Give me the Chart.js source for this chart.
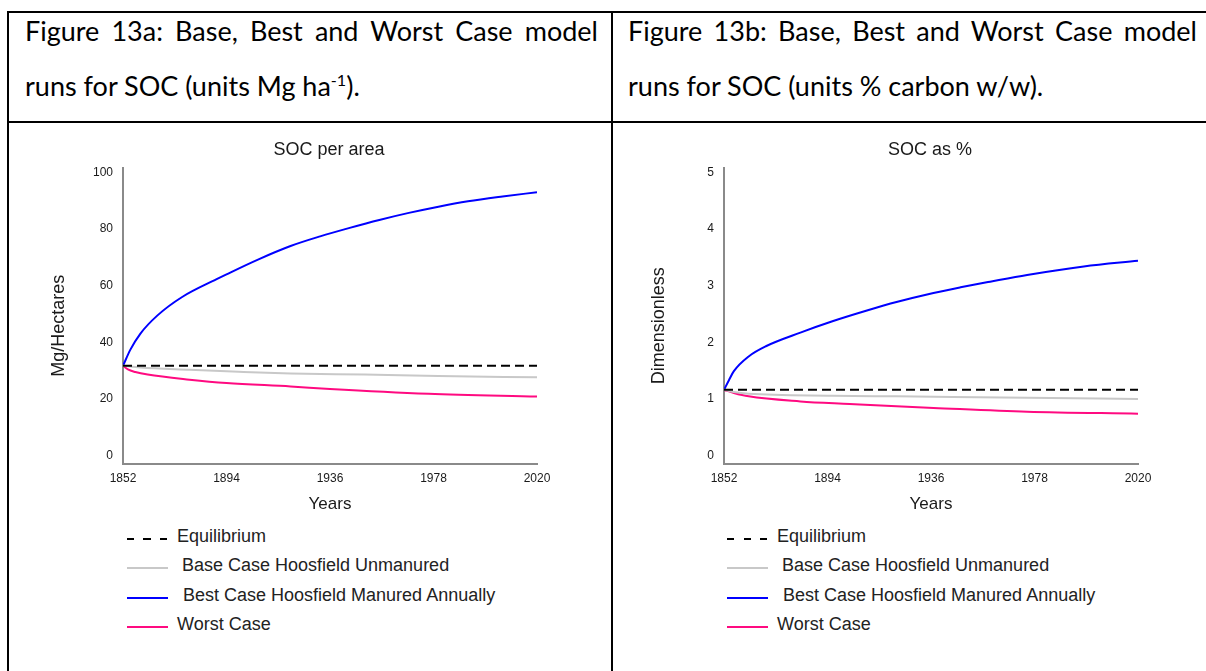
<!DOCTYPE html>
<html>
<head>
<meta charset="utf-8">
<title>SOC model runs</title>
<script src="https://cdn.jsdelivr.net/npm/chart.js@4.4.1/dist/chart.umd.min.js"></script>
<style>
  html, body { margin: 0; padding: 0; background: #fff; }
  body { position: relative; width: 1206px; height: 671px; overflow: hidden; }
  .rule { position: absolute; background: #000; }
  .caption { position: absolute; font-family: Lato, sans-serif; font-size: 27px; color: #000; line-height: 30px; }
  .caption .first { text-align: justify; text-align-last: justify; }
  .caption sup { font-size: 0.6em; line-height: 0; vertical-align: 0.6em; }
  canvas { position: absolute; top: 124px; }
  .legend { position: absolute; top: 0; left: 0; font-family: "Liberation Sans", Arial, sans-serif; font-size: 18px; color: #222; }
  .legend div { position: absolute; white-space: nowrap; }
</style>
</head>
<body>

<div class="caption" style="left:25px; top:16px; width:573px;">
  <div class="first">Figure 13a: Base, Best and Worst Case model</div>
</div>
<div class="caption" style="left:25px; top:71px;">runs for SOC (units Mg ha<sup>-1</sup>).</div>
<div class="caption" style="left:628px; top:16px; width:569px;">
  <div class="first">Figure 13b: Base, Best and Worst Case model</div>
</div>
<div class="caption" style="left:628px; top:71px;">runs for SOC (units % carbon w/w).</div>

<canvas id="areaChart" width="574" height="396" style="left:42px"></canvas>
<canvas id="pctChart" width="572" height="396" style="left:644px"></canvas>

<div class="legend" id="areaLegend"></div>
<div class="legend" id="pctLegend"></div>

<div class="rule" style="left:7px; top:11px; width:1199px; height:2px"></div>
<div class="rule" style="left:7px; top:121px; width:1199px; height:2px"></div>
<div class="rule" style="left:7px; top:11px; width:2px; height:660px"></div>
<div class="rule" style="left:611px; top:11px; width:2px; height:660px"></div>

<script>
const yearTicks = [1852, 1894, 1936, 1978, 2020];
const areaTicks = [0, 20, 40, 60, 80, 100];
const pctTicks = [0, 1, 2, 3, 4, 5];

const seriesNames = ['Equilibrium', 'Base Case Hoosfield Unmanured', 'Best Case Hoosfield Manured Annually', 'Worst Case'];
const seriesColors = ['#000000', '#c8c8c8', '#0000ff', '#ff0a80'];

// SOC per area, Mg/ha
const areaEquilYears = [1852, 2020];
const areaEquil = [31.7, 31.7];
const areaBaseYears = [1852, 1859, 1879, 1899, 1920, 1950, 1980, 2020];
const areaBase = [31.7, 31.1, 30.3, 29.6, 29.0, 28.6, 28.1, 27.6];
const areaBestYears = [1852, 1855, 1859, 1866, 1876, 1890, 1894, 1907, 1920, 1932, 1944, 1956, 1968, 1980, 1992, 2006, 2020];
const areaBest = [31.7, 37.4, 43.0, 49.5, 56.0, 62.3, 64.0, 69.3, 74.0, 77.4, 80.4, 83.2, 85.7, 87.9, 89.8, 91.5, 93.0];
const areaWorstYears = [1852, 1854, 1857, 1862, 1879, 1894, 1920, 1936, 1976, 2020];
const areaWorst = [31.7, 30.4, 29.5, 28.6, 26.8, 25.6, 24.4, 23.5, 21.8, 20.8];

// SOC as %
const pctEquilYears = [1852, 2020];
const pctEquil = [1.16, 1.16];
const pctBaseYears = [1852, 1856, 1862, 1896, 1922, 1975, 2020];
const pctBase = [1.16, 1.12, 1.09, 1.057, 1.045, 1.02, 1.0];
const pctBestYears = [1852, 1854, 1856, 1862, 1869, 1883, 1896, 1910, 1922, 1937, 1948, 1960, 1975, 1998, 2020];
const pctBest = [1.16, 1.33, 1.49, 1.75, 1.93, 2.17, 2.37, 2.56, 2.71, 2.87, 2.97, 3.07, 3.19, 3.34, 3.44];
const pctWorstYears = [1852, 1856, 1862, 1883, 1903, 1922, 1937, 1975, 2020];
const pctWorst = [1.16, 1.105, 1.045, 0.956, 0.91, 0.868, 0.84, 0.774, 0.739];

const fontFamily = '"Liberation Sans", Arial, sans-serif';
const textColor = '#1a1a1a';
const axisColor = '#8a8a8a';

function points(xs, ys) {
    return xs.map((x, i) => ({ x: x, y: ys[i] }));
}

function makeDatasets(series) {
    return series.map((s, i) => ({
        label: seriesNames[i],
        data: points(s[0], s[1]),
        borderColor: seriesColors[i],
        borderDash: i === 0 ? [9, 5] : [],
        borderWidth: 2,
        pointRadius: 0,
        fill: false,
        cubicInterpolationMode: 'monotone'
    }));
}

function makeChart(id, o) {
    return new Chart(document.getElementById(id), {
        type: 'line',
        data: { datasets: makeDatasets(o.series) },
        options: {
            responsive: false,
            animation: false,
            devicePixelRatio: 1,
            layout: { padding: 0 },
            plugins: {
                legend: { display: false },
                tooltip: { enabled: false },
                title: {
                    display: true,
                    text: o.title,
                    color: textColor,
                    font: { family: fontFamily, size: 18, weight: 'normal' },
                    padding: { top: 15, bottom: 7 }
                }
            },
            scales: {
                x: {
                    type: 'linear',
                    min: 1852,
                    max: 2020,
                    afterBuildTicks: s => { s.ticks = yearTicks.map(v => ({ value: v })); },
                    afterFit: s => { s.height = 56; },
                    grid: { display: false, drawTicks: false },
                    border: { display: true, color: axisColor, width: 2 },
                    ticks: {
                        padding: 7, maxRotation: 0, autoSkip: false,
                        color: textColor, font: { family: fontFamily, size: 12 },
                        callback: v => String(v)
                    },
                    title: {
                        display: true, text: 'Years', color: textColor,
                        font: { family: fontFamily, size: 17 },
                        padding: { top: 0, bottom: 5 }
                    }
                },
                y: {
                    type: 'linear',
                    min: o.yMin,
                    max: o.yMax,
                    afterBuildTicks: s => { s.ticks = o.yTicks.map(v => ({ value: v })); },
                    afterFit: s => { s.width = o.yWidth; },
                    grid: { display: false, drawTicks: false },
                    border: { display: true, color: axisColor, width: 2 },
                    ticks: {
                        padding: 10,
                        color: textColor, font: { family: fontFamily, size: 12 },
                        callback: v => String(v)
                    },
                    title: {
                        display: true, text: o.yTitle + '    ', color: textColor,
                        font: { family: fontFamily, size: 18 },
                        padding: { top: o.yTitlePad, bottom: 0 }
                    }
                },
                // empty box on the right so the chart title centres over the plot
                spacer: {
                    position: 'right',
                    display: true,
                    afterFit: s => { s.width = o.spacer; },
                    grid: { display: false, drawTicks: false },
                    border: { display: false },
                    ticks: { display: false }
                }
            }
        }
    });
}

function makeLegend(id, left) {
    const el = document.getElementById(id);
    const indent = [0, 5, 6, 0];
    seriesNames.forEach((name, i) => {
        const rowY = 536 + i * 29.4;
        const line = document.createElement('div');
        line.style.left = left + 'px';
        line.style.top = (rowY + 2) + 'px';
        line.style.width = '41px';
        line.style.height = '2px';
        if (i === 0) {
            line.style.background = 'repeating-linear-gradient(to right, #000 0 7px, transparent 7px 16.5px)';
        } else {
            line.style.background = seriesColors[i];
        }
        el.appendChild(line);
        const txt = document.createElement('div');
        txt.textContent = name;
        txt.style.left = (left + 50 + indent[i]) + 'px';
        txt.style.top = (rowY - 11) + 'px';
        txt.style.lineHeight = '22px';
        el.appendChild(txt);
    });
}

makeChart('areaChart', {
    title: 'SOC per area',
    yTitle: 'Mg/Hectares',
    yTicks: areaTicks,
    yMin: -3,
    yMax: 101.7,
    yWidth: 81,
    yTitlePad: 6,
    spacer: 79,
    series: [[areaEquilYears, areaEquil], [areaBaseYears, areaBase], [areaBestYears, areaBest], [areaWorstYears, areaWorst]]
});

makeChart('pctChart', {
    title: 'SOC as %',
    yTitle: 'Dimensionless',
    yTicks: pctTicks,
    yMin: -0.15,
    yMax: 5.085,
    yWidth: 80,
    yTitlePad: 4,
    spacer: 78,
    series: [[pctEquilYears, pctEquil], [pctBaseYears, pctBase], [pctBestYears, pctBest], [pctWorstYears, pctWorst]]
});

makeLegend('areaLegend', 127);
makeLegend('pctLegend', 727);
</script>
</body>
</html>
